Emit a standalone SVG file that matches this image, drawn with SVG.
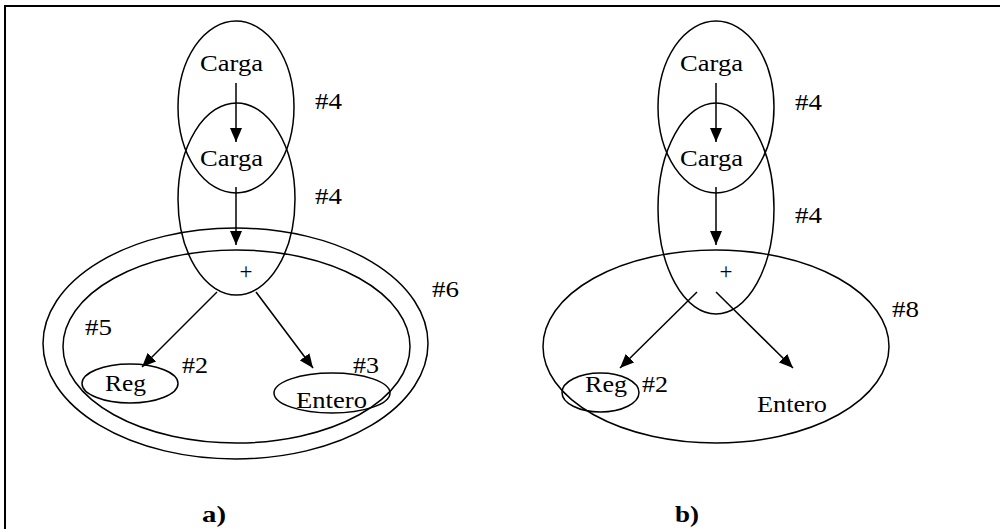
<svg xmlns="http://www.w3.org/2000/svg" width="1000" height="529" viewBox="0 0 1000 529">
<style>
.s{fill:none;stroke:#000;stroke-width:1.5}
.t{font-family:"Liberation Serif","Times New Roman",serif;font-size:23px;fill:#000}
.b{font-family:"Liberation Serif","Times New Roman",serif;font-size:23px;font-weight:bold;fill:#000}
.c{stroke:#000;stroke-width:1.5;fill:none;marker-end:url(#ah)}
</style>
<defs>
<marker id="ah" markerUnits="userSpaceOnUse" markerWidth="14" markerHeight="12" refX="14" refY="6" orient="auto">
<path d="M0,0 L14,6 L0,12 z" fill="#000"/>
</marker>
</defs>
<rect width="1000" height="529" fill="#fff"/>
<g id="frame">
<line x1="5" y1="6" x2="1000" y2="6" stroke="#000" stroke-width="2"/>
<line x1="5" y1="5" x2="5" y2="529" stroke="#000" stroke-width="2"/>
</g>

<!-- Part a -->
<g id="a-carga1">
<ellipse class="s" cx="236" cy="107" rx="58" ry="86"/>
<text class="t" x="200" y="71" textLength="63" lengthAdjust="spacingAndGlyphs">Carga</text>
<text class="t" x="315" y="109" textLength="27" lengthAdjust="spacingAndGlyphs">#4</text>
</g>
<g id="a-carga2">
<ellipse class="s" cx="236.5" cy="199" rx="58.5" ry="96"/>
<text class="t" x="200" y="166" textLength="63" lengthAdjust="spacingAndGlyphs">Carga</text>
<text class="t" x="315" y="204" textLength="27" lengthAdjust="spacingAndGlyphs">#4</text>
</g>
<g id="a-plus6">
<ellipse class="s" cx="235.5" cy="343.5" rx="192.5" ry="115.5"/>
<text class="t" x="432" y="297" textLength="27" lengthAdjust="spacingAndGlyphs">#6</text>
</g>
<g id="a-plus5">
<ellipse class="s" cx="236.5" cy="346.5" rx="173.5" ry="96.5"/>
<text class="t" x="246" y="279" text-anchor="middle">+</text>
<text class="t" x="85" y="335" textLength="27" lengthAdjust="spacingAndGlyphs">#5</text>
</g>
<g id="a-reg">
<ellipse class="s" cx="130" cy="383.5" rx="48" ry="19.5"/>
<text class="t" x="105" y="391" textLength="41" lengthAdjust="spacingAndGlyphs">Reg</text>
<text class="t" x="182" y="373" textLength="26" lengthAdjust="spacingAndGlyphs">#2</text>
</g>
<g id="a-entero">
<ellipse class="s" cx="332" cy="393" rx="58" ry="20"/>
<text class="t" x="296" y="408" textLength="71" lengthAdjust="spacingAndGlyphs">Entero</text>
<text class="t" x="353" y="373" textLength="26" lengthAdjust="spacingAndGlyphs">#3</text>
</g>
<g id="a-label">
<text class="b" x="202" y="522" textLength="24" lengthAdjust="spacingAndGlyphs">a)</text>
</g>

<!-- Part b -->
<g id="b-carga1">
<ellipse class="s" cx="716" cy="107" rx="58" ry="86"/>
<text class="t" x="680" y="71" textLength="63" lengthAdjust="spacingAndGlyphs">Carga</text>
<text class="t" x="795" y="110" textLength="27" lengthAdjust="spacingAndGlyphs">#4</text>
</g>
<g id="b-carga2">
<ellipse class="s" cx="716" cy="208.5" rx="58" ry="105.5"/>
<text class="t" x="680" y="166" textLength="63" lengthAdjust="spacingAndGlyphs">Carga</text>
<text class="t" x="795" y="223" textLength="27" lengthAdjust="spacingAndGlyphs">#4</text>
</g>
<g id="b-plus">
<ellipse class="s" cx="716" cy="346.5" rx="173" ry="96.5"/>
<text class="t" x="726" y="279" text-anchor="middle">+</text>
<text class="t" x="892" y="317" textLength="27" lengthAdjust="spacingAndGlyphs">#8</text>
</g>
<g id="b-reg">
<ellipse class="s" cx="600.5" cy="392.5" rx="38.5" ry="19.5"/>
<text class="t" x="585" y="392" textLength="42" lengthAdjust="spacingAndGlyphs">Reg</text>
<text class="t" x="642" y="392" textLength="26" lengthAdjust="spacingAndGlyphs">#2</text>
</g>
<g id="b-entero">
<text class="t" x="757" y="412" textLength="70" lengthAdjust="spacingAndGlyphs">Entero</text>
</g>
<g id="b-label">
<text class="b" x="675" y="522" textLength="24" lengthAdjust="spacingAndGlyphs">b)</text>
</g>

<g id="connectors">
<line class="c" x1="236" y1="83" x2="236" y2="142"/>
<line class="c" x1="236" y1="187" x2="236" y2="245"/>
<line class="c" x1="217" y1="292" x2="142" y2="367"/>
<line class="c" x1="256" y1="292" x2="313" y2="368"/>
<line class="c" x1="716" y1="83" x2="716" y2="142"/>
<line class="c" x1="716" y1="187" x2="716" y2="245"/>
<line class="c" x1="697" y1="292" x2="620" y2="368"/>
<line class="c" x1="716" y1="292" x2="793" y2="368"/>
</g>
</svg>
